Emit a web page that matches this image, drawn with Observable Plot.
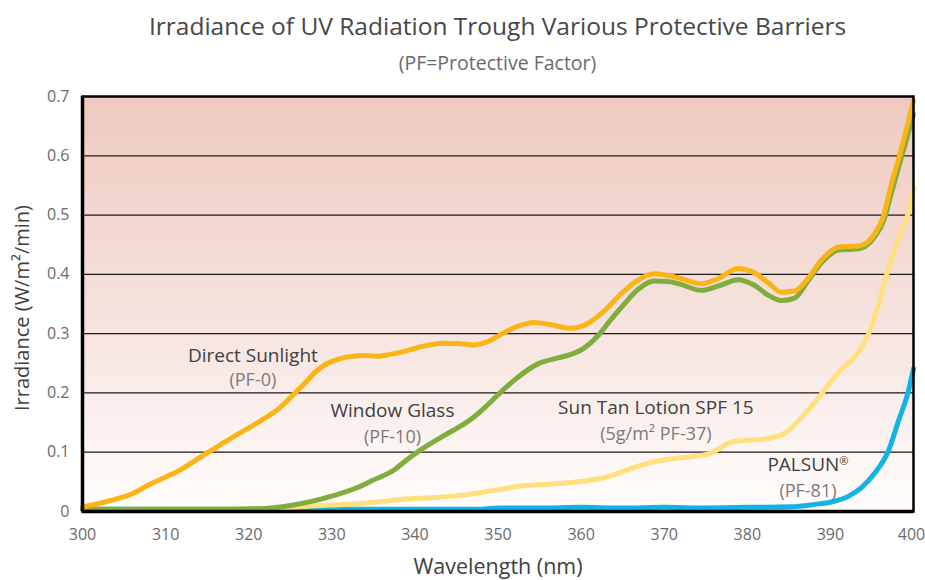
<!DOCTYPE html>
<html>
<head>
<meta charset="utf-8">
<script src="https://cdn.jsdelivr.net/npm/d3@7"></script>
<script src="https://cdn.jsdelivr.net/npm/@observablehq/plot@0.6"></script>
<style>
  html, body { margin: 0; padding: 0; background: #fff; }
  body { width: 925px; height: 580px; overflow: hidden; font-family: "Open Sans", sans-serif; }
  #header { position: relative; height: 82px; width: 925px; }
  #title { position: absolute; left: 82px; right: 12px; top: 9px; text-align: center; font-size: 24.5px; color: #474747; line-height: normal; white-space: nowrap; }
  #subtitle { position: absolute; left: 82px; right: 12px; top: 49px; text-align: center; font-size: 19.5px; color: #6a6a6a; line-height: normal; white-space: nowrap; }
  #chart svg { display: block; overflow: visible; }
</style>
</head>
<body>
<div id="header">
  <div id="title"></div>
  <div id="subtitle"></div>
</div>
<div id="chart"></div>
<script>
const titleText = "Irradiance of UV Radiation Trough Various Protective Barriers";
const subtitleText = "(PF=Protective Factor)";
const xAxisTitle = "Wavelength (nm)";
const yAxisTitle = "Irradiance (W/m²/min)";

const xTicks = [300, 310, 320, 330, 340, 350, 360, 370, 380, 390, 400];
const yTicks = [0, 0.1, 0.2, 0.3, 0.4, 0.5, 0.6, 0.7];
const gridLines = [0.1, 0.2, 0.3, 0.4, 0.5, 0.6];

// Direct Sunlight (PF-0)
const sunWavelength = [300, 301.5, 303.5, 306, 308, 310, 312, 314, 315.5, 317, 319, 320.5, 322, 323.5, 325.5, 327, 328, 329.5, 331, 332.5, 334, 335.5, 337, 339, 341, 343.5, 345.5, 347, 349, 350.5, 352.5, 354.3, 356.4, 358.8, 360.5, 362.7, 364.8, 366.8, 368.8, 370.5, 372, 374.5, 376.5, 378.9, 380.8, 382.5, 384.1, 385.7, 387.3, 388.9, 391, 393.4, 395.3, 396.3, 397.3, 398.6, 400];
const sunIrradiance = [0.008, 0.012, 0.019, 0.030, 0.045, 0.058, 0.072, 0.090, 0.103, 0.116, 0.133, 0.145, 0.158, 0.172, 0.199, 0.220, 0.235, 0.250, 0.258, 0.262, 0.263, 0.262, 0.265, 0.271, 0.279, 0.284, 0.283, 0.281, 0.288, 0.300, 0.313, 0.319, 0.315, 0.309, 0.315, 0.337, 0.367, 0.390, 0.401, 0.398, 0.393, 0.384, 0.393, 0.410, 0.403, 0.386, 0.370, 0.372, 0.393, 0.424, 0.446, 0.448, 0.468, 0.495, 0.550, 0.615, 0.693];

// Window Glass (PF-10)
const glassWavelength = [300, 310, 318, 322, 324, 326.5, 328.7, 331, 333, 335, 337.5, 339, 340.7, 343.5, 346.7, 348.3, 350, 352, 354.8, 357.2, 358.8, 360.4, 362, 363.6, 365.2, 366.8, 368.8, 370.5, 372, 374.5, 376.5, 378.9, 380.8, 382.5, 384.1, 385.7, 387.3, 388.9, 391, 393.4, 395.3, 396.4, 397.3, 398.6, 400];
const glassIrradiance = [0.004, 0.004, 0.004, 0.005, 0.008, 0.014, 0.021, 0.030, 0.040, 0.053, 0.070, 0.087, 0.104, 0.128, 0.155, 0.174, 0.197, 0.222, 0.249, 0.259, 0.265, 0.276, 0.296, 0.324, 0.350, 0.374, 0.389, 0.388, 0.383, 0.373, 0.380, 0.391, 0.382, 0.365, 0.356, 0.360, 0.389, 0.419, 0.441, 0.443, 0.463, 0.490, 0.535, 0.600, 0.670];

// Sun Tan Lotion SPF 15 (5g/m² PF-37)
const lotionWavelength = [300, 320, 326, 330, 334, 338, 342.8, 346, 348.8, 352.8, 356, 358.8, 362.7, 366.8, 368.5, 371, 375.3, 378.4, 382.5, 384.5, 386.5, 388.9, 391.3, 392.9, 394.6, 395.8, 397, 398.2, 399.4, 400];
const lotionIrradiance = [0.004, 0.004, 0.008, 0.011, 0.014, 0.020, 0.024, 0.028, 0.034, 0.043, 0.046, 0.049, 0.057, 0.076, 0.083, 0.089, 0.097, 0.118, 0.123, 0.132, 0.158, 0.198, 0.240, 0.260, 0.300, 0.350, 0.410, 0.462, 0.505, 0.545];

// PALSUN® (PF-81)
const palsunWavelength = [300, 310, 320, 330, 340, 348, 350, 355, 360, 365, 370, 375, 380, 385.3, 388.1, 390.1, 392.2, 393.7, 395.3, 397, 398.2, 399.4, 400];
const palsunIrradiance = [0.004, 0.004, 0.004, 0.004, 0.004, 0.004, 0.006, 0.006, 0.007, 0.006, 0.007, 0.006, 0.007, 0.008, 0.012, 0.016, 0.026, 0.040, 0.064, 0.103, 0.153, 0.204, 0.241];

const seriesNames = ["PALSUN®", "Sun Tan Lotion SPF 15", "Window Glass", "Direct Sunlight"];
const seriesColors = ["#12b4e6", "#ffe07e", "#7fad3e", "#fbb416"];

// Label annotations (anchored in data space)
const labelNames = ["Direct Sunlight", "Window Glass", "Sun Tan Lotion SPF 15", "PALSUN®"];
const labelNotes = ["(PF-0)", "(PF-10)", "(5g/m² PF-37)", "(PF-81)"];
const labelWavelength = [320.5, 337.3, 369.0, 387.3];
const labelNameIrradiance = [0.263, 0.170, 0.174, 0.079];
const labelNoteIrradiance = [0.221, 0.125, 0.130, 0.035];

document.getElementById("title").textContent = titleText;
document.getElementById("subtitle").textContent = subtitleText;

const seriesData = [
  {name: seriesNames[0], wl: palsunWavelength, ir: palsunIrradiance},
  {name: seriesNames[1], wl: lotionWavelength, ir: lotionIrradiance},
  {name: seriesNames[2], wl: glassWavelength, ir: glassIrradiance},
  {name: seriesNames[3], wl: sunWavelength, ir: sunIrradiance}
];
const rows = seriesData.flatMap(s => s.wl.map((w, i) => ({series: s.name, wavelength: w, irradiance: s.ir[i]})));
const labels = labelNames.map((n, i) => ({name: n, note: labelNotes[i], x: labelWavelength[i], yName: labelNameIrradiance[i], yNote: labelNoteIrradiance[i]}));

const chart = Plot.plot({
  width: 925,
  height: 498,
  marginLeft: 82,
  marginRight: 12,
  marginTop: 14,
  marginBottom: 69,
  style: {fontFamily: "Open Sans, sans-serif", fontSize: "16px", color: "#6a6a6a", background: "transparent"},
  x: {domain: [300, 400], ticks: xTicks, tickFormat: d => String(d)},
  y: {domain: [0, 0.7], ticks: yTicks, tickFormat: d => d === 0 ? "0" : d.toFixed(1)},
  color: {domain: seriesNames, range: seriesColors},
  marks: [
    Plot.frame({fill: "url(#bgGrad)", stroke: null}),
    Plot.ruleY(gridLines, {stroke: "#1a1a1a", strokeWidth: 1.2}),
    Plot.line(rows, {x: "wavelength", y: "irradiance", z: "series", stroke: "series", strokeWidth: 5, curve: "monotone-x", strokeLinejoin: "round", strokeLinecap: "round"}),
    Plot.frame({stroke: "#000", strokeWidth: 2.5}),
    Plot.ruleX([300], {stroke: "#000", strokeWidth: 3.5}),
    Plot.ruleY([0], {stroke: "#000", strokeWidth: 3.5}),
    Plot.axisX({ticks: xTicks.slice(0, -1), tickSize: 0, tickPadding: 17, label: null, fill: "#6a6a6a", tickFormat: d => String(d)}),
    Plot.axisX({ticks: xTicks.slice(-1), tickSize: 0, tickPadding: 17, label: null, fill: "#6a6a6a", dx: -2, tickFormat: d => String(d)}),
    Plot.axisY({ticks: yTicks, tickSize: 0, tickPadding: 13, label: null, fill: "#6a6a6a", tickFormat: d => d === 0 ? "0" : d.toFixed(1)}),
    Plot.text(labels, {x: "x", y: "yName", text: "name", fontSize: 19, fill: "#404040"}),
    Plot.text(labels, {x: "x", y: "yNote", text: "note", fontSize: 18, fill: "#7a7a7a"}),
    Plot.text([xAxisTitle], {text: d => d, frameAnchor: "bottom", lineAnchor: "bottom", dy: 62, fontSize: 21.5, fill: "#404040"}),
    Plot.text([yAxisTitle], {text: d => d, frameAnchor: "left", textAnchor: "middle", rotate: -90, dx: -60, dy: 4, fontSize: 20, fill: "#404040"})
  ]
});

const ns = "http://www.w3.org/2000/svg";
const defs = document.createElementNS(ns, "defs");
const grad = document.createElementNS(ns, "linearGradient");
grad.setAttribute("id", "bgGrad");
grad.setAttribute("x1", "0"); grad.setAttribute("y1", "0");
grad.setAttribute("x2", "0"); grad.setAttribute("y2", "1");
[["0%", "#eec9c0"], ["55%", "#f6e3de"], ["100%", "#fffdfc"]].forEach(([o, c]) => {
  const st = document.createElementNS(ns, "stop");
  st.setAttribute("offset", o);
  st.setAttribute("stop-color", c);
  grad.appendChild(st);
});
defs.appendChild(grad);
chart.insertBefore(defs, chart.firstChild);

// render the registered mark as a small superscript, as in the reference
chart.querySelectorAll("text").forEach(t => {
  if (t.children.length === 0 && t.textContent.includes("®")) {
    const parts = t.textContent.split("®");
    t.textContent = parts[0];
    const sup = document.createElementNS(ns, "tspan");
    sup.setAttribute("font-size", "11");
    sup.setAttribute("dy", "-6");
    sup.textContent = "®";
    t.appendChild(sup);
  }
});
document.getElementById("chart").appendChild(chart);
</script>
</body>
</html>
